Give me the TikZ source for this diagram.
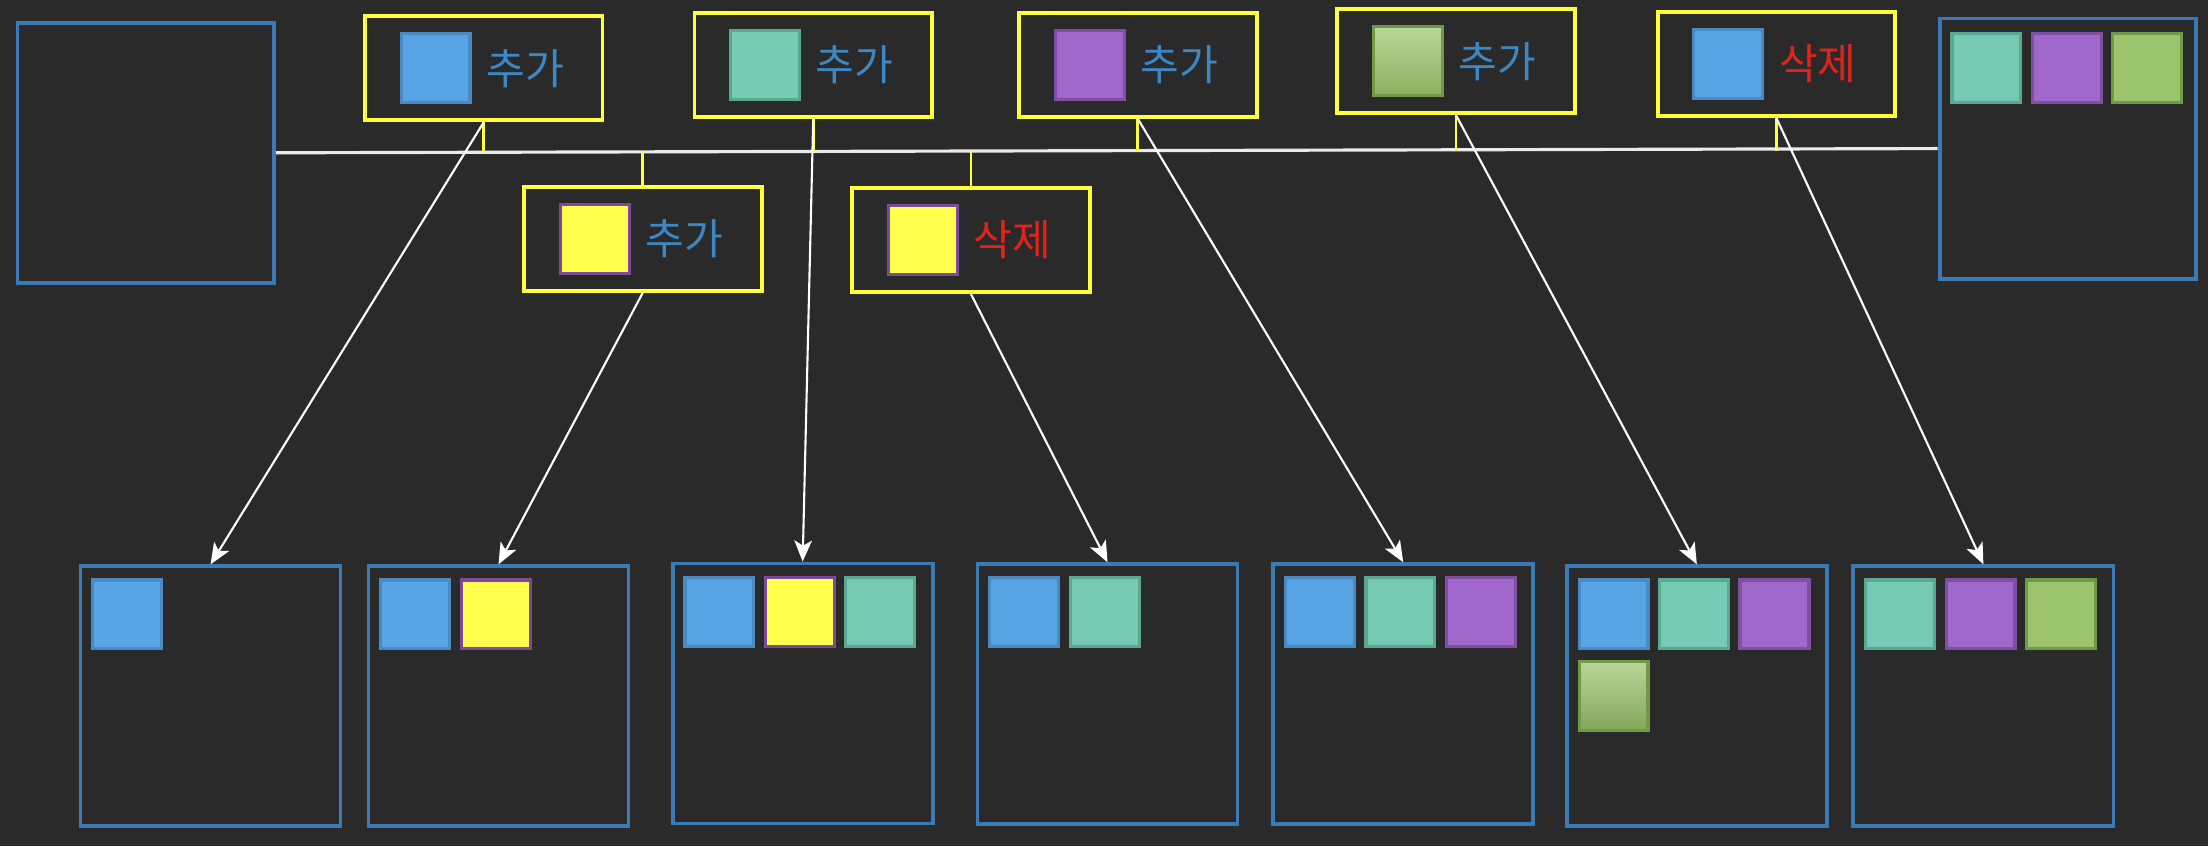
\documentclass[tikz,border=0pt]{standalone}
\usepackage{fontspec}
\newfontfamily\kr{Noto Sans CJK KR}
\usetikzlibrary{arrows.meta}
\usetikzlibrary{positioning}

\definecolor{bgc}{HTML}{2A2A2A}
\definecolor{binline}{HTML}{3B7BB5}
\definecolor{opline}{HTML}{FFFF3A}
\definecolor{cblue}{HTML}{57A5E5}
\definecolor{cblueline}{HTML}{4A8AC4}
\definecolor{cteal}{HTML}{77CBB4}
\definecolor{ctealline}{HTML}{5AA892}
\definecolor{cpurple}{HTML}{A168CC}
\definecolor{cpurpleline}{HTML}{7E4FA3}
\definecolor{cgreen}{HTML}{9CC46C}
\definecolor{cgreenline}{HTML}{6F9A47}
\definecolor{cyellow}{HTML}{FFFF4D}
\definecolor{cyellowline}{HTML}{7D4A9A}
\definecolor{addblue}{HTML}{3C87C6}
\definecolor{delred}{HTML}{E2231A}

\tikzset{
  bin/.style={draw=binline, line width=1.1pt, minimum width=74pt, minimum height=74pt, inner sep=0pt},
  op/.style={draw=opline, line width=1.1pt, minimum width=67.6pt, minimum height=29.6pt, inner sep=0pt},
  sq/.style={minimum size=19.6pt, inner sep=0pt, line width=0.9pt},
  blueq/.style={sq, fill=cblue, draw=cblueline},
  tealq/.style={sq, fill=cteal, draw=ctealline},
  purpleq/.style={sq, fill=cpurple, draw=cpurpleline},
  greenq/.style={sq, fill=cgreen, draw=cgreenline},
  yellowq/.style={sq, fill=cyellow, draw=cyellowline},
  add/.style={text=addblue, font=\kr\fontsize{12}{13}\selectfont, inner sep=0pt},
  del/.style={text=delred, font=\kr\fontsize{12}{13}\selectfont, inner sep=0pt},
  link/.style={white, line width=0.6pt, -{Stealth[length=6pt, width=5pt, inset=1.5pt]}},
  stem/.style={opline, line width=0.8pt},
  timeline/.style={white!92!black, line width=0.9pt}
}

\begin{document}
\begin{tikzpicture}[x=0.01408cm, y=-0.01408cm]
    \useasboundingbox (0,0) rectangle (1568,601);
    \fill[bgc] (0,0) rectangle (1568,601);

    % start and end
    \node[bin, minimum width=73pt] (bin0) at (103.5,108.5) {};
    \node[bin, minimum width=73pt] (binR) at (1468.5,105.5) {};
    \node[tealq, below right=4.4pt and 3.6pt of binR.north west] (bRq1) {};
    \node[purpleq, right=2.4pt of bRq1] (bRq2) {};
    \node[greenq, right=2.4pt of bRq2] (bRq3) {};

    % operations
    \node[op] (op1) at (343.5,48.5) {};
    \node[blueq, right=10.4pt of op1.west] (op1q) {};
    \node[add, right=4pt of op1q] (op1t) {추가};

    \node[op] (op2) at (577.5,46) {};
    \node[tealq, right=10.4pt of op2.west] (op2q) {};
    \node[add, right=4pt of op2q] (op2t) {추가};

    \node[op] (op3) at (808,46) {};
    \node[purpleq, right=10.4pt of op3.west] (op3q) {};
    \node[add, right=4pt of op3q] (op3t) {추가};

    \node[op] (op4) at (1034,43.5) {};
    \node[greenq, top color=cgreen!70!white, bottom color=cgreen!90!black, right=10.4pt of op4.west] (op4q) {};
    \node[add, right=4pt of op4q] (op4t) {추가};

    \node[op] (op5) at (1261.5,45.5) {};
    \node[blueq, right=10.4pt of op5.west] (op5q) {};
    \node[del, right=4pt of op5q] (op5t) {삭제};

    \node[op] (op6) at (456.5,169.5) {};
    \node[yellowq, right=10.4pt of op6.west] (op6q) {};
    \node[add, right=4pt of op6q] (op6t) {추가};

    \node[op] (op7) at (689.5,170.5) {};
    \node[yellowq, right=10.4pt of op7.west] (op7q) {};
    \node[del, right=4pt of op7q] (op7t) {삭제};

    % states
    \node[bin] (bin1) at (149.5,494.5) {};
    \node[blueq, below right=4pt and 3.6pt of bin1.north west] (b1q1) {};

    \node[bin] (bin2) at (354,494.5) {};
    \node[blueq, below right=4pt and 3.6pt of bin2.north west] (b2q1) {};
    \node[yellowq, right=2.4pt of b2q1] (b2q2) {};

    \node[bin] (bin3) at (570,492.5) {};
    \node[blueq, below right=4pt and 3.6pt of bin3.north west] (b3q1) {};
    \node[yellowq, right=2.4pt of b3q1] (b3q2) {};
    \node[tealq, right=2.4pt of b3q2] (b3q3) {};

    \node[bin] (bin4) at (786.5,493) {};
    \node[blueq, below right=4pt and 3.6pt of bin4.north west] (b4q1) {};
    \node[tealq, right=2.4pt of b4q1] (b4q2) {};

    \node[bin] (bin5) at (996.5,493) {};
    \node[blueq, below right=4pt and 3.6pt of bin5.north west] (b5q1) {};
    \node[tealq, right=2.4pt of b5q1] (b5q2) {};
    \node[purpleq, right=2.4pt of b5q2] (b5q3) {};

    \node[bin] (bin6) at (1205,494.5) {};
    \node[blueq, below right=4pt and 3.6pt of bin6.north west] (b6q1) {};
    \node[tealq, right=2.4pt of b6q1] (b6q2) {};
    \node[purpleq, right=2.4pt of b6q2] (b6q3) {};
    \node[greenq, top color=cgreen!70!white, bottom color=cgreen!85!black, below=2.6pt of b6q1] (b6q4) {};

    \node[bin] (bin7) at (1408.5,494.5) {};
    \node[tealq, below right=4pt and 3.6pt of bin7.north west] (b7q1) {};
    \node[purpleq, right=2.4pt of b7q1] (b7q2) {};
    \node[greenq, right=2.4pt of b7q2] (b7q3) {};

    % timeline
    \coordinate (tl) at (0,107);
    \draw[timeline] (bin0.east) -- (binR.west);
    \draw[stem] (op1.south) -- (op1.south |- tl);
    \draw[stem] (op2.south) -- (op2.south |- tl);
    \draw[stem] (op3.south) -- (op3.south |- tl);
    \draw[stem] (op4.south) -- (op4.south |- tl);
    \draw[stem] (op5.south) -- (op5.south |- tl);
    \draw[stem] (op6.north) -- (op6.north |- tl);
    \draw[stem] (op7.north) -- (op7.north |- tl);

    \draw[link] (op1.south) -- (bin1.north);
    \draw[link] (op6.south) -- (bin2.north);
    \draw[link] (op2.south) -- (bin3.north);
    \draw[link] (op7.south) -- (bin4.north);
    \draw[link] (op3.south) -- (bin5.north);
    \draw[link] (op4.south) -- (bin6.north);
    \draw[link] (op5.south) -- (bin7.north);
\end{tikzpicture}
\end{document}
